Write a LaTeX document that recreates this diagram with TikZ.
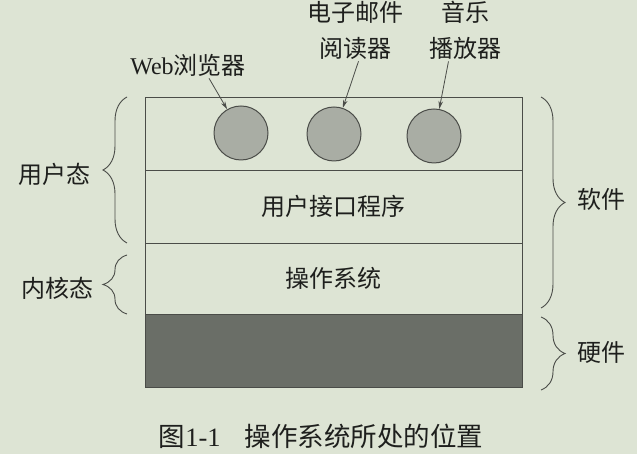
\documentclass[tikz,border=0pt]{standalone}
\usepackage{fontspec}
\setmainfont{Liberation Serif}
\newfontfamily\cjk{Noto Sans CJK SC}
\usetikzlibrary{decorations.pathreplacing,arrows.meta}
\definecolor{paper}{HTML}{DDE4D4}
\definecolor{edge}{HTML}{4A4C48}
\definecolor{ink}{HTML}{1E1F1D}
\definecolor{appfill}{HTML}{A9ADA4}
\definecolor{hwfill}{HTML}{6A6E67}
\begin{document}
\begin{tikzpicture}[x=1pt,y=1pt,
  layer/.style={draw=edge, line width=0.9pt, minimum width=377pt,
    inner sep=0pt, outer sep=0pt, text=ink, font=\fontsize{24}{28}\selectfont\cjk},
  app/.style={circle, draw=edge, line width=1pt, fill=appfill,
    minimum size=54pt, inner sep=0pt},
  lbl/.style={text=ink, inner sep=2pt, align=center,
    font=\fontsize{24}{36}\selectfont\cjk},
  brc/.style={draw=edge, line width=0.9pt,
    decorate, decoration={brace, amplitude=24pt, aspect=0.5}},
  ptr/.style={draw=edge, line width=0.8pt, -{Stealth[length=8pt,width=4.5pt]}}]

% paper
\fill[paper] (0,0) rectangle (637,454);
\useasboundingbox (0,0) rectangle (637,454);

% stacked layers
\node[layer, minimum height=73pt, anchor=north west] (apps) at (145,357) {};
\node[layer, minimum height=73pt, anchor=north] (ui) at (apps.south) {用户接口程序};
\node[layer, minimum height=71pt, anchor=north] (os) at (ui.south) {操作系统};
\node[layer, minimum height=73pt, anchor=north, fill=hwfill] (hw) at (os.south) {};

% applications
\node[app] (c1) at (241,321) {};
\node[app] (c2) at (334,320) {};
\node[app] (c3) at (434,318) {};

% application labels
\node[lbl] (web) at (188,389) {{\rmfamily Web}浏览器};
\node[lbl] (mail) at (355.5,424) {电子邮件\\阅读器};
\node[lbl] (music) at (465.5,424) {音乐\\播放器};

\draw[ptr] ([xshift=21pt]web.south) -- (c1);
\draw[ptr] ([xshift=3pt]mail.south) -- (c2);
\draw[ptr] ([xshift=-17pt]music.south) -- (c3);

% left braces
\draw[brc] ([xshift=-18pt]ui.south west) -- ([xshift=-18pt]apps.north west);
\draw[brc] ([xshift=-18pt]os.south west) -- ([xshift=-18pt,yshift=-12pt]os.north west);
\node[lbl] (user) at (54,280) {用户态};
\node[lbl] (kern) at (57,166) {内核态};

% right braces
\draw[brc] ([xshift=19pt]apps.north east) -- ([xshift=19pt,yshift=6pt]os.south east);
\draw[brc] ([xshift=19pt,yshift=-3pt]hw.north east) -- ([xshift=19pt,yshift=-3pt]hw.south east);
\node[lbl] (soft) at (601,255) {软件};
\node[lbl] (hard) at (601,102) {硬件};

% caption
\node[text=ink, font=\fontsize{26.5}{30}\selectfont] (cap) at (321,18)
  {{\cjk 图}1-1\hspace{0.9em}{\cjk 操作系统所处的位置}};
\end{tikzpicture}
\end{document}
